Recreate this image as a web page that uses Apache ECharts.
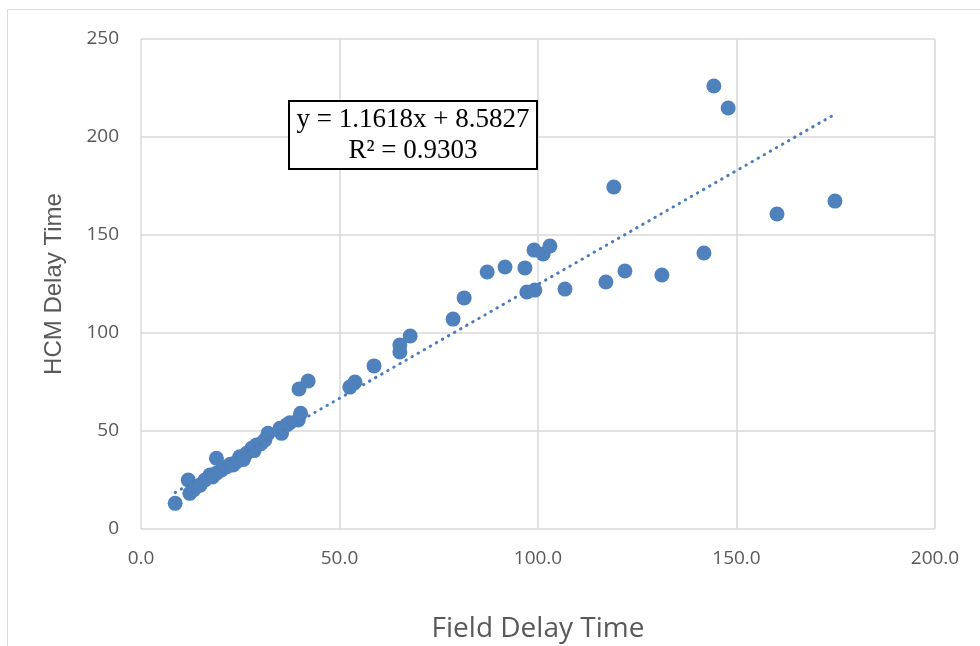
<!DOCTYPE html>
<html>
<head>
  <meta charset="utf-8">
  <title>HCM vs Field Delay Time</title>
  <script src="https://cdn.jsdelivr.net/npm/echarts@6/dist/echarts.min.js"></script>
  <style>
    body { margin: 0; padding: 0; background: #fff; }
    #main { width: 980px; height: 646px; }
  </style>
</head>
<body>
  <div id="main"></div>
  <script type="text/javascript">
    // field delay (x) and HCM delay (y)
    var fieldDelay = [8.6, 11.9, 12.3, 13.2, 14.0, 14.9, 16.1, 17.4, 18.0, 19.0, 19.0, 20.3, 21.6, 22.5, 23.2,
      24.1, 24.9, 25.8, 26.6, 27.9, 28.5, 29.1, 30.2, 31.2, 32.0, 35.0, 35.4, 36.7, 37.5, 39.6, 40.2,
      39.8, 42.1, 52.6, 53.9, 58.7, 65.2, 65.2, 67.8, 78.6, 81.4, 87.2, 91.7, 96.7, 97.2, 99.0, 99.2,
      101.3, 103.0, 106.8, 117.1, 119.1, 121.9, 131.2, 141.8, 144.3, 147.9, 160.2, 174.8];
    var hcmDelay = [13.1, 25.0, 18.2, 19.9, 21.6, 22.4, 25.0, 27.6, 26.5, 36.1, 28.5, 30.1, 31.8, 33.0, 32.7,
      34.3, 36.9, 35.5, 38.6, 41.2, 40.0, 42.9, 43.5, 45.4, 48.8, 51.4, 48.8, 53.1, 54.2, 55.6, 59.0,
      71.4, 75.5, 72.4, 75.0, 83.2, 90.3, 93.9, 98.5, 107.1, 117.9, 131.1, 133.7, 133.2, 120.9, 142.3, 121.9,
      140.3, 144.4, 122.4, 126.0, 174.5, 131.6, 129.6, 140.8, 226.0, 214.8, 160.7, 167.3];
    var xTicks = [0, 50, 100, 150, 200];
    var yTicks = [0, 50, 100, 150, 200, 250];
    // linear trend from the equation shown in the chart
    var slope = 1.1618, intercept = 8.5827;
    var trendX = [8.6, 174.8];

    var points = fieldDelay.map(function (x, i) { return [x, hcmDelay[i]]; });
    var trend = trendX.map(function (x) { return [x, slope * x + intercept]; });

    var chart = echarts.init(document.getElementById('main'));
    var grey = '#595959';
    var option = {
      animation: false,
      grid: { left: 141, right: 45, top: 39, bottom: 117, outerBoundsMode: 'none' },
      xAxis: {
        type: 'value',
        min: xTicks[0], max: xTicks[xTicks.length - 1], interval: 50,
        name: 'Field Delay Time',
        nameLocation: 'middle',
        nameGap: 86,
        nameTextStyle: { fontFamily: 'Open Sans', fontSize: 28, color: grey },
        axisLine: { show: false },
        axisTick: { show: false },
        axisLabel: {
          margin: 20, fontFamily: 'Open Sans', fontSize: 19, color: grey,
          formatter: function (v) { return v.toFixed(1); }
        },
        splitLine: { lineStyle: { color: '#d9d9d9', width: 1.5 } }
      },
      yAxis: {
        type: 'value',
        min: yTicks[0], max: yTicks[yTicks.length - 1], interval: 50,
        name: 'HCM Delay Time',
        nameLocation: 'middle',
        nameGap: 75,
        nameTextStyle: { fontFamily: 'Liberation Sans', fontSize: 24, color: grey },
        axisLine: { show: false },
        axisTick: { show: false },
        axisLabel: { margin: 22, fontFamily: 'Open Sans', fontSize: 19, color: grey },
        splitLine: { lineStyle: { color: '#d9d9d9', width: 1.5 } }
      },
      graphic: [
        {
          type: 'rect', silent: true, z: -1,
          shape: { x: 7.5, y: 9.5, width: 1000, height: 700 },
          style: { fill: 'none', stroke: '#d9d9d9', lineWidth: 1 }
        },
        {
          type: 'rect', z: 10,
          shape: { x: 289, y: 101, width: 248, height: 68 },
          style: { fill: '#fff', stroke: '#000', lineWidth: 2 }
        },
        {
          type: 'text', z: 11, x: 413, y: 104,
          style: {
            text: 'y = 1.1618x + 8.5827\nR² = 0.9303',
            fontFamily: 'Liberation Serif', fontSize: 27, lineHeight: 31,
            fill: '#000', align: 'center', verticalAlign: 'top'
          }
        }
      ],
      series: [
        {
          type: 'scatter',
          data: points,
          symbolSize: 15,
          itemStyle: { color: '#4f81bd', opacity: 1 },
          z: 3
        },
        {
          type: 'line',
          data: trend,
          symbol: 'none',
          lineStyle: { color: '#4a7ebb', width: 3, type: [0.5, 6.5], cap: 'round' },
          z: 4
        }
      ]
    };
    chart.setOption(option);
  </script>
</body>
</html>
